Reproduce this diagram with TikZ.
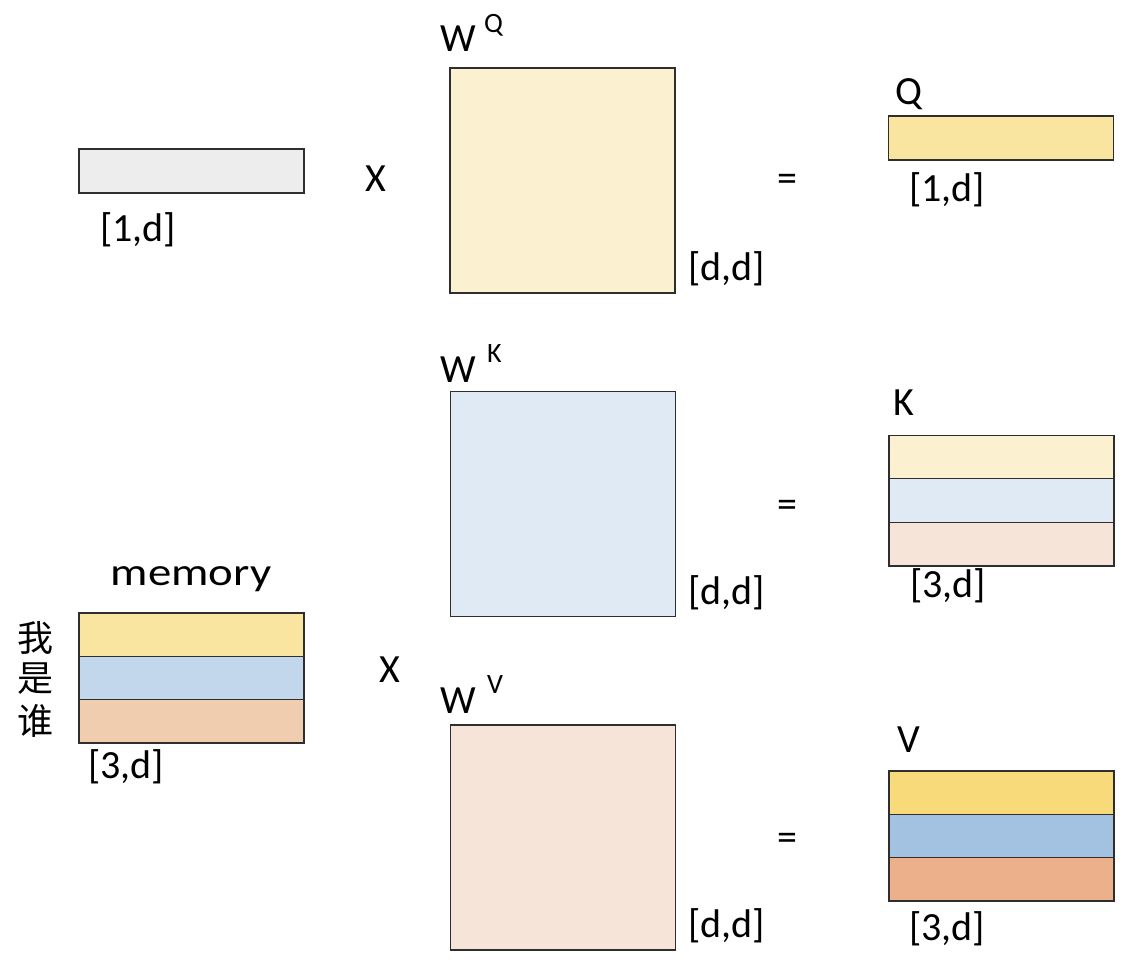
\documentclass[tikz,border=0pt]{standalone}
\usepackage{fontspec}
\setmainfont{Carlito}
\newfontfamily\cjk{Noto Sans CJK SC}
\newfontfamily\memfont[FakeStretch=1.2]{Carlito}
\definecolor{ingray}{HTML}{EDEDED}
\definecolor{wqcol}{HTML}{FBF1D1}
\definecolor{qcol}{HTML}{F9E4A0}
\definecolor{memy}{HTML}{F9E4A0}
\definecolor{memb}{HTML}{C2D7EC}
\definecolor{memo}{HTML}{F1CDB0}
\definecolor{wkcol}{HTML}{E0EAF4}
\definecolor{wvcol}{HTML}{F6E4D8}
\definecolor{vy}{HTML}{F8DA7A}
\definecolor{vb}{HTML}{A3C2E1}
\definecolor{vo}{HTML}{ECB18A}
\begin{document}
\begin{tikzpicture}[x=1pt,y=-1pt,
  box/.style={draw=black!82, line width=1.2pt, inner sep=0pt, outer sep=0pt},
  sq/.style={box, minimum width=225, minimum height=225},
  bar/.style={box, minimum width=225, minimum height=44},
  row/.style={box, minimum width=225, minimum height=43.4},
  lbl/.style={font=\fontsize{40}{44}\selectfont, inner sep=0pt, anchor=base west},
  sup/.style={font=\fontsize{28}{30}\selectfont, inner sep=0pt, anchor=base west},
  op/.style={font=\fontsize{40}{44}\selectfont, inner sep=0pt, anchor=base},
  zh/.style={font=\cjk\fontsize{36}{40}\selectfont, inner sep=0pt}]
\useasboundingbox (0,0) rectangle (1134,968);
% input row
\node[bar, fill=ingray] (in) at (191.5,171) {};
\node[lbl] (inlbl) at (100,241) {[1,d]};
\node[op] (x1) at (376,192) {X};
% WQ
\node[sq, fill=wqcol] (wq) at (562.5,180.5) {};
\node[lbl] (wqW) at (440,52) {W};
\node[sup] (wqs) at (484,33) {Q};
\node[lbl] (wqd) at (688,280) {[d,d]};
\node[op] (eq1) at (787,192) {=};
% Q
\node[bar, fill=qcol] (q) at (1001,138) {};
\node[lbl] (qlbl) at (895,105) {Q};
\node[lbl] (qd) at (909,202) {[1,d]};
% WK
\node[sq, fill=wkcol] (wk) at (563,504) {};
\node[lbl] (wkW) at (440,382) {W};
\node[sup] (wks) at (487,362) {K};
\node[lbl] (wkd) at (688,604) {[d,d]};
\node[op] (eq2) at (787,517) {=};
% K
\node[row, fill=wqcol] (k1) at (1001.5,456.8) {};
\node[row, fill=wkcol] (k2) at (1001.5,500.5) {};
\node[row, fill=wvcol] (k3) at (1001.5,544.2) {};
\node[lbl] (klbl) at (893,415) {K};
\node[lbl] (kd) at (910,597) {[3,d]};
% memory
\node[font=\memfont\fontsize{39}{44}\selectfont, inner sep=0pt, anchor=base] (mem) at (191,585) {memory};
\node[row, fill=memy] (m1) at (191.5,634.7) {};
\node[row, fill=memb] (m2) at (191.5,678) {};
\node[row, fill=memo] (m3) at (191.5,721.3) {};
\node[zh] (c1) at (35,638) {我};
\node[zh] (c2) at (35,679) {是};
\node[zh] (c3) at (35,721) {谁};
\node[lbl] (md) at (88,778) {[3,d]};
\node[op] (x2) at (390,682) {X};
% WV
\node[sq, fill=wvcol] (wv) at (563,837.5) {};
\node[lbl] (wvW) at (440,713) {W};
\node[sup] (wvs) at (487,693) {V};
\node[lbl] (wvd) at (688,937) {[d,d]};
\node[op] (eq3) at (787,850) {=};
% V
\node[row, fill=vy] (v1) at (1001.5,792.7) {};
\node[row, fill=vb] (v2) at (1001.5,836) {};
\node[row, fill=vo] (v3) at (1001.5,879.3) {};
\node[lbl] (vlbl) at (897,752) {V};
\node[lbl] (vd) at (909,940) {[3,d]};
\end{tikzpicture}
\end{document}
